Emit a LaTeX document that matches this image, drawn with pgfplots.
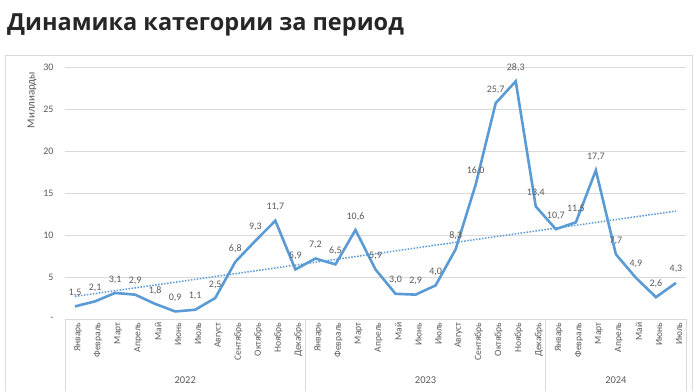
\documentclass[border=0pt]{standalone}
\usepackage{pgfplots}
\pgfplotsset{compat=1.18}
\usepackage{fontspec}
\setmainfont{Carlito}
\newfontfamily\titlefont{Open Sans}
\definecolor{lineblue}{HTML}{5B9BD5}
\definecolor{txt}{HTML}{595959}
\definecolor{gridc}{HTML}{D9D9D9}
\definecolor{titlec}{HTML}{262626}
\begin{document}
\begin{tikzpicture}[x=1bp,y=1bp]
\useasboundingbox (0,0) rectangle (700,391);
\draw[gridc, line width=0.8bp] (5,0) -- (5,336) -- (692,336) -- (692,0);
\node[anchor=base west, inner sep=0pt, font=\titlefont\bfseries\fontsize{23.6}{26}\selectfont, text=titlec] at (7,361) {Динамика категории за период};
\node[rotate=90, font=\fontsize{11}{13}\selectfont, text=txt] at (32,291) {Миллиарды};
\begin{axis}[
  at={(65bp,72bp)}, anchor=south west,
  scale only axis, width=621bp, height=252bp,
  xmin=-0.5, xmax=30.5, ymin=0, ymax=30,
  axis line style={draw=none},
  major tick length=0pt,
  ymajorgrids, grid style={gridc, line width=0.8bp},
  ytick={0,5,10,15,20,25,30},
  yticklabels={-,5,10,15,20,25,30},
  yticklabel style={font=\fontsize{10}{12}\selectfont, text=txt, anchor=east, xshift=-8bp},
  xtick={0,...,30},
  xticklabels={Январь,Февраль,Март,Апрель,Май,Июнь,Июль,Август,Сентябрь,Октябрь,Ноябрь,Декабрь,Январь,Февраль,Март,Апрель,Май,Июнь,Июль,Август,Сентябрь,Октябрь,Ноябрь,Декабрь,Январь,Февраль,Март,Апрель,Май,Июнь,Июль},
  xticklabel style={rotate=90, anchor=east, font=\fontsize{9.6}{11}\selectfont, text=txt, xshift=0bp, yshift=-3bp},
  clip=false,
]
\addplot[lineblue, line width=2.6bp, mark=none,
  nodes near coords={\pgfmathprintnumber[fixed,fixed zerofill,precision=1,use comma,assume math mode=true]{\pgfplotspointmeta}},
  nodes near coords style={font=\fontsize{10}{12}\selectfont, text=txt, anchor=center, yshift=13.5bp, inner sep=0pt},
  point meta=y]
coordinates {
(0,1.5) (1,2.1) (2,3.1) (3,2.9) (4,1.8) (5,0.9) (6,1.1) (7,2.5) (8,6.8) (9,9.3) (10,11.7) (11,5.9)
(12,7.2) (13,6.5) (14,10.6) (15,5.9) (16,3.0) (17,2.9) (18,4.0) (19,8.3) (20,16.0) (21,25.7) (22,28.3) (23,13.4)
(24,10.7) (25,11.5) (26,17.7) (27,7.7) (28,4.9) (29,2.6) (30,4.3)
};
\addplot[lineblue, line width=1.5bp, dash pattern=on 1.5bp off 1.5bp, mark=none]
coordinates {(0,2.69) (30,12.85)};
\draw[gridc, line width=0.8bp] (axis cs:-0.5,0) -- ++(0bp,-72bp);
\draw[gridc, line width=0.8bp] (axis cs:11.5,0) -- ++(0bp,-72bp);
\draw[gridc, line width=0.8bp] (axis cs:23.5,0) -- ++(0bp,-72bp);
\draw[gridc, line width=0.8bp] (axis cs:30.5,0) -- ++(0bp,-72bp);
\node[font=\fontsize{10.5}{12}\selectfont, text=txt] at ([yshift=-61bp]axis cs:5.5,0) {2022};
\node[font=\fontsize{10.5}{12}\selectfont, text=txt] at ([yshift=-61bp]axis cs:17.5,0) {2023};
\node[font=\fontsize{10.5}{12}\selectfont, text=txt] at ([yshift=-61bp]axis cs:27,0) {2024};
\end{axis}
\end{tikzpicture}
\end{document}
